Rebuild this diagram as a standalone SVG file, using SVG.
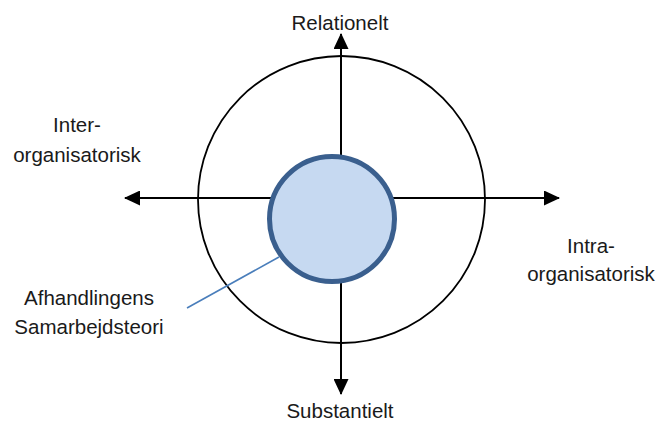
<svg xmlns="http://www.w3.org/2000/svg" width="659" height="428" viewBox="0 0 659 428">
  <style>
    .axis { stroke: #000; stroke-width: 2; fill: none; }
    .ring { stroke: #000; stroke-width: 1.8; fill: none; }
    .core { fill: #c6d9f1; stroke: #3a5f8e; stroke-width: 5; }
    .callout { stroke: #4a7ebb; stroke-width: 1.6; fill: none; }
    .lbl { font-family: "Liberation Sans", Arial, sans-serif; font-size: 20.5px; fill: #1a1a1a; text-anchor: middle; }
  </style>
  <defs>
    <marker id="arrow" viewBox="0 0 16 15" refX="15" refY="7.5" markerWidth="16" markerHeight="15" markerUnits="userSpaceOnUse" orient="auto">
      <path d="M0,0 L16,7.5 L0,15 Z" fill="#000"/>
    </marker>
  </defs>
  <rect width="659" height="428" fill="#fff"/>

  <g id="outer-ring">
    <circle class="ring" cx="341.5" cy="199.5" r="143.5"/>
  </g>

  <g id="connectors">
    <line class="axis" x1="341" y1="199" x2="341" y2="34" marker-end="url(#arrow)"/>
    <line class="axis" x1="341" y1="199" x2="341" y2="394" marker-end="url(#arrow)"/>
    <line class="axis" x1="341" y1="198" x2="125" y2="198" marker-end="url(#arrow)"/>
    <line class="axis" x1="341" y1="198" x2="559" y2="198" marker-end="url(#arrow)"/>
    <line class="callout" x1="187" y1="308" x2="279" y2="257"/>
  </g>

  <g id="core">
    <circle class="core" cx="332" cy="219" r="62.5"/>
  </g>

  <g id="label-top">
    <text class="lbl" x="340" y="30">Relationelt</text>
  </g>
  <g id="label-bottom">
    <text class="lbl" x="340" y="418">Substantielt</text>
  </g>
  <g id="label-left">
    <text class="lbl" x="77" y="132">Inter-</text>
    <text class="lbl" x="77" y="162">organisatorisk</text>
  </g>
  <g id="label-right">
    <text class="lbl" x="591" y="253">Intra-</text>
    <text class="lbl" x="591" y="281">organisatorisk</text>
  </g>
  <g id="label-core">
    <text class="lbl" x="89" y="305">Afhandlingens</text>
    <text class="lbl" x="89" y="334">Samarbejdsteori</text>
  </g>
</svg>
